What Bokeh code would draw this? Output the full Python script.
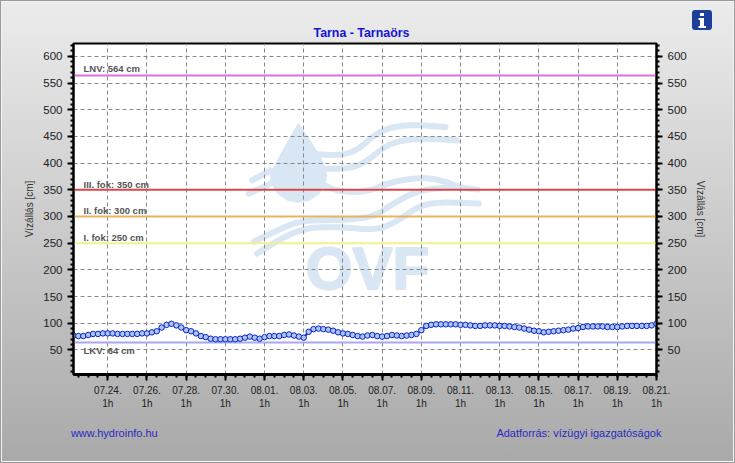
from bokeh.plotting import figure
from bokeh.models import FixedTicker, LinearAxis, Label, Span, Title
from bokeh.embed import file_html
from bokeh.resources import INLINE

TITLE = "Tarna - Tarnaörs"
Y_TITLE = "Vízállás [cm]"
SITE = "www.hydroinfo.hu"
SOURCE = "Adatforrás: vízügyi igazgatóságok"
# water level every 6 hours, from 07.22. 7h to 08.21. 1h
water_level = [
    77, 76, 76, 78, 80, 80, 81, 81, 81, 80, 80, 80, 80, 80, 81,
    81, 83, 85, 92, 97, 99, 96, 92, 87, 85, 81, 76, 74, 71, 70, 70, 70, 70, 70, 71, 73,
    75, 73, 71, 74, 76, 76, 76, 78, 79, 77, 75,
    73, 84, 89, 90, 89, 88, 86, 83, 81, 80, 78, 76, 75, 77, 78, 76, 75, 76, 78, 77, 76, 77, 78, 80,
    87, 95, 97, 98, 98, 98, 98, 98, 97, 97, 96, 95, 95, 96, 96, 96,
    95, 95, 94, 93, 92, 90, 88, 86, 85, 83, 84, 85, 86, 87, 88, 90, 91, 93, 94, 94, 94, 94, 93, 93, 93,
    94, 95, 95, 95, 95, 95, 96, 99,
]
date_labels = ["07.24.", "07.26.", "07.28.", "07.30.", "08.01.", "08.03.", "08.05.", "08.07.",
               "08.09.", "08.11.", "08.13.", "08.15.", "08.17.", "08.19.", "08.21."]
hour_label = "1h"
y_major = [50, 100, 150, 200, 250, 300, 350, 400, 450, 500, 550, 600]
y_minor = list(range(10, 630, 10))
levels = [
    ("LNV: 564 cm", 564, "#d873de", 68),
    ("III. fok: 350 cm", 350, "#d84848", 184),
    ("II. fok: 300 cm", 300, "#e8b45c", 210),
    ("I. fok: 250 cm", 250, "#f6f08a", 237),
    ("LKV: 64 cm", 64, "#a8a8f2", 350),
]

hours = [i * 6 for i in range(len(water_level))]
tick_hours = [42 + 48 * i for i in range(len(date_labels))]
minor_hours = [6 + 12 * i for i in range(60)]

FL, FR, FT, FB = 73, 656, 43, 374.5     # frame in page pixels
XMIN, XMAX, YMIN, YMAX = 0, 714, 4, 624
FONT = "Liberation Sans"

def dx(px):
    return XMIN + (px - FL) * (XMAX - XMIN) / (FR - FL)

def dy(py):
    return YMAX - (py - FT) * (YMAX - YMIN) / (FB - FT)

def smooth(points, rounds=3):
    pts = list(points)
    for _ in range(rounds):
        out = [pts[0]]
        for (a, b), (c, d) in zip(pts, pts[1:]):
            out.append((0.75 * a + 0.25 * c, 0.75 * b + 0.25 * d))
            out.append((0.25 * a + 0.75 * c, 0.25 * b + 0.75 * d))
        out.append(pts[-1])
        pts = out
    return pts

p = figure(width=735, height=463, frame_width=int(FR - FL), frame_height=int(FB - FT),
           x_range=(XMIN, XMAX), y_range=(YMIN, YMAX),
           output_backend="svg", toolbar_location=None, title=None,
           min_border_left=73, min_border_right=79, min_border_top=43, min_border_bottom=89)
icon = ("url(\"data:image/svg+xml,<svg xmlns='http://www.w3.org/2000/svg' width='20' height='20'>"
        "<rect width='20' height='20' rx='3' fill='%231c3f9c'/>"
        "<rect x='8' y='3' width='4' height='3' fill='white'/>"
        "<path d='M6.5 8H12V16H14V18H6.5V16H8V10H6.5Z' fill='white'/></svg>\") 692px 10px/20px 20px no-repeat")
p.styles = {"background": icon + ", linear-gradient(#ececec, #a9a9a9)",
            "box-shadow": "inset 0 0 0 1px #9a9a9a, inset 0 0 0 2px #f4f4f4"}
p.border_fill_alpha = 0
p.background_fill_color = "white"
p.outline_line_color = "black"
p.outline_line_width = 2

# watermark
WM = "#d9e6f4"
drop = [(298,123),(288,140),(277,160),(270,175),(271,183),(277,193),(287,200),(298,202),(309,200),
        (319,193),(325,183),(326,175),(323,163),(317,152),(306,135)]
p.patch([dx(a) for a, b in drop], [dy(b) for a, b in drop], fill_color=WM, line_color=WM, level="image")
waves = [
    [(230,132),(300,135),(350,120),(400,75),(450,50),(520,43),(615,50)],
    [(255,175),(320,175),(370,160),(430,110),(480,90),(560,85),(650,90)],
    [(250,225),(300,245),(380,245),(450,215),(550,200),(620,215),(660,232),(712,238)],
    [(35,210),(90,180)],
    [(25,250),(90,220)],
    [(40,395),(100,365),(180,330),(300,330),(400,320),(450,285),(530,240),(640,230)],
    [(50,430),(130,380),(200,352),(300,350),(400,360),(460,340),(530,290),(590,275),(715,280)],
]
waves = [smooth(w) for w in waves]
p.multi_line([[dx(240 + a / 3) for a, b in w] for w in waves],
             [[dy(110 + b / 3) for a, b in w] for w in waves],
             line_color=WM, line_width=6, line_cap="round", line_join="round", level="image")
p.add_layout(Label(x=dx(367), y=dy(268), text="OVF", text_font=FONT, text_font_style="bold",
                   text_font_size="60px", text_color=WM, text_align="center", text_baseline="middle",
                   text_outline_color=WM, level="image"))

for ax in (p.yaxis[0], LinearAxis()):
    ax.ticker = FixedTicker(ticks=y_major, minor_ticks=y_minor)
    ax.axis_label = Y_TITLE
    ax.axis_label_text_font = FONT
    ax.axis_label_text_font_size = "10px"
    ax.axis_label_text_font_style = "normal"
    ax.axis_label_text_color = "#333333"
    ax.major_label_text_font = FONT
    ax.major_label_text_font_size = "11.5px"
    ax.major_label_text_color = "#222222"
    ax.axis_line_color = "black"
    ax.axis_line_width = 2
    ax.major_tick_line_width = 2
    ax.minor_tick_line_width = 2
    ax.major_tick_in = 0
    ax.minor_tick_in = 0
    ax.major_tick_out = 6
    ax.minor_tick_out = 3
    if ax is not p.yaxis[0]:
        p.add_layout(ax, "right")

xa = p.xaxis[0]
xa.ticker = FixedTicker(ticks=tick_hours, minor_ticks=minor_hours)
xa.major_label_overrides = {h: f"{d}\n{hour_label}" for h, d in zip(tick_hours, date_labels)}
xa.major_label_text_font = FONT
xa.major_label_text_font_size = "10px"
xa.major_label_text_color = "#222222"
xa.major_label_standoff = 4
xa.axis_line_color = "black"
xa.axis_line_width = 3
xa.major_tick_line_width = 2
xa.minor_tick_line_width = 2
xa.major_tick_in = 0
xa.minor_tick_in = 0
xa.major_tick_out = 6
xa.minor_tick_out = 3

# footer row: a second bottom axis carrying only the two texts
site_x, source_x = round(dx(113.5)), round(dx(578.5))
footer = LinearAxis(ticker=FixedTicker(ticks=[site_x, source_x], minor_ticks=[]),
                    major_label_overrides={site_x: SITE, source_x: SOURCE})
footer.axis_line_color = None
footer.major_tick_line_color = None
footer.minor_tick_line_color = None
footer.major_tick_out = 0
footer.minor_tick_out = 0
footer.major_label_standoff = 15
footer.major_label_text_font = FONT
footer.major_label_text_font_size = "11px"
footer.major_label_text_color = "#2a2ac4"
p.add_layout(footer, "below")

p.xgrid.ticker = FixedTicker(ticks=tick_hours)
p.ygrid.ticker = FixedTicker(ticks=y_major)
for g in (p.xgrid, p.ygrid):
    g.grid_line_color = "#888888"
    g.grid_line_dash = "4 3"
    g.grid_line_width = 1

for text, lev, color, py in levels:
    p.add_layout(Span(location=lev, dimension="width", line_color=color, line_width=2, level="underlay"))
    p.add_layout(Label(x=dx(83), y=dy(py), text=text, text_font=FONT, text_font_size="9.5px",
                       text_font_style="bold", text_color="#555555", text_baseline="middle"))

p.line(hours, water_level, line_color="#0a1fc0", line_width=2)
p.scatter(hours, water_level, marker="circle", size=5.5, fill_color="#a9c8f8", line_color="#1020c8", line_width=1)

p.add_layout(Title(text=TITLE, align="left", offset=240, standoff=8, text_font=FONT, text_font_style="bold",
                   text_font_size="12.4px", text_color="#1414d8"), "above")

open("out.html", "w").write(file_html(p, INLINE))
